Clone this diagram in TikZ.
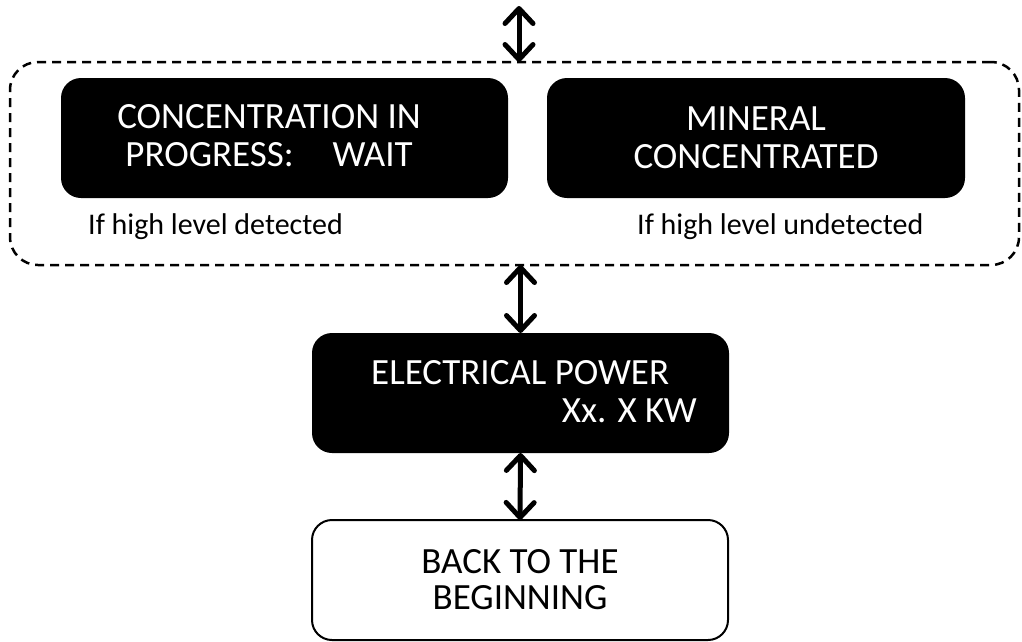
\documentclass[tikz,border=0pt]{standalone}
\usepackage{fontspec}
\setmainfont{Carlito}
\usetikzlibrary{arrows.meta,calc}
\tikzset{
  blackbox/.style={rectangle, rounded corners=20pt, fill=black, text=white, inner sep=0pt, outer sep=0pt, align=center, font=\fontsize{37}{38}\selectfont},
  whitebox/.style={rectangle, rounded corners=20pt, draw=black, line width=2pt, fill=white, inner sep=0pt, outer sep=0pt, align=center, font=\fontsize{37}{36}\selectfont},
  groupbox/.style={rectangle, rounded corners=28pt, draw=black, line width=2.5pt, dash pattern=on 9pt off 6pt, inner sep=0pt, outer sep=0pt},
  boxtext/.style={inner sep=0pt, text=white, align=center, font=\fontsize{37}{38}\selectfont},
  condlabel/.style={inner sep=0pt, anchor=base west, font=\fontsize{30}{32}\selectfont},
  dblarrow/.style={line width=5pt, {Straight Barb[length=15pt,width=28pt,line cap=round,line join=round]}-{Straight Barb[length=15pt,width=28pt,line cap=round,line join=round]}}
}
\begin{document}
\begin{tikzpicture}[x=1pt,y=-1pt]
\useasboundingbox (0,0) rectangle (1022,641);
% group
\node[groupbox, minimum width=1009pt, minimum height=203pt] (group) at (514.5,163.5) {};
\node[blackbox, minimum width=447pt, minimum height=120pt] (conc) at (284.5,138) {};
\node[boxtext] (conctext) at (269,136) {CONCENTRATION IN\\PROGRESS:\hspace{1.05em}WAIT};
\node[blackbox, minimum width=418pt, minimum height=120pt] (mineral) at (756,138) {MINERAL\\CONCENTRATED};
\node[condlabel] (hd) at (88,234) {If high level detected};
\node[condlabel] (hu) at (637,234) {If high level undetected};
% power
\node[blackbox, minimum width=417pt, minimum height=120pt] (power) at (520.5,393) {};
\node[boxtext, anchor=base west] (pw1) at (371,384) {ELECTRICAL POWER};
\node[boxtext, anchor=base east] (pw2) at (697,422) {Xx. X KW};
% back
\node[whitebox, minimum width=416pt, minimum height=120pt] (back) at (520,580) {BACK TO THE\\BEGINNING};
% arrows
\coordinate (topend) at (519,6);
\draw[dblarrow] (topend) -- (topend |- group.north);
\draw[dblarrow] (power.north |- group.south) -- (power.north);
\draw[dblarrow] (power.south) -- (back.north);
\end{tikzpicture}
\end{document}
